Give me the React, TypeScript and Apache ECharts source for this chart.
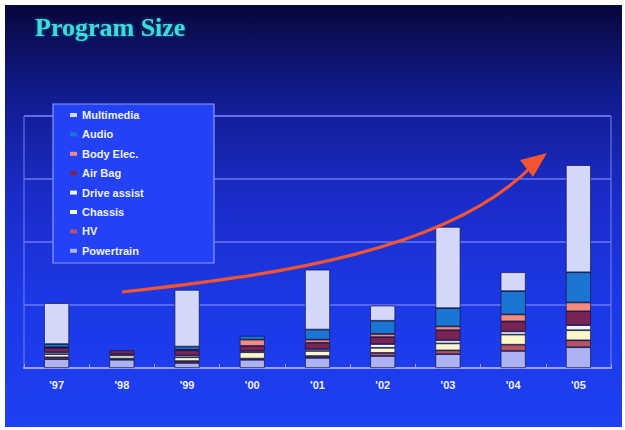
import React, { useEffect, useRef } from "react";
import * as echarts from "echarts";

const categories = ["'97", "'98", "'99", "'00", "'01", "'02", "'03", "'04", "'05"];
// stacked from bottom to top
const powertrain = [1.4, 1.3, 0.8, 1.3, 1.6, 1.9, 2.2, 2.7, 3.3];
const hv = [0.3, 0.2, 0.3, 0.2, 0.3, 0.5, 0.6, 1.0, 1.1];
const chassis = [0.5, 0.5, 0.6, 1.0, 0.8, 0.8, 1.1, 1.6, 1.6];
const driveAssist = [0.3, 0.2, 0.3, 0.2, 0.3, 0.6, 0.5, 0.5, 0.8];
const airBag = [0.7, 0.6, 0.8, 0.8, 1.0, 1.1, 1.6, 1.6, 2.2];
const bodyElec = [0.1, 0, 0.1, 1.0, 0.5, 0.5, 0.6, 1.1, 1.4];
const audio = [0.5, 0, 0.5, 0.6, 1.6, 2.1, 2.9, 3.7, 4.8];
const multimedia = [6.5, 0, 9.0, 0, 9.5, 2.4, 12.9, 3.0, 17.0];

const seriesDefs = [
  { name: "Powertrain", data: powertrain, color: "#adb3f2" },
  { name: "HV", data: hv, color: "#b65466" },
  { name: "Chassis", data: chassis, color: "#fbf7c6" },
  { name: "Drive assist", data: driveAssist, color: "#eef2ff" },
  { name: "Air Bag", data: airBag, color: "#7a2456" },
  { name: "Body Elec.", data: bodyElec, color: "#f48c7e" },
  { name: "Audio", data: audio, color: "#1a76d2" },
  { name: "Multimedia", data: multimedia, color: "#d4d8f8" },
];

const legendOrder = ["Multimedia", "Audio", "Body Elec.", "Air Bag", "Drive assist", "Chassis", "HV", "Powertrain"];

export default function App() {
  const ref = useRef<HTMLDivElement>(null);

  useEffect(() => {
    const chart = echarts.init(ref.current!, null, { renderer: "svg" });

    const bg = new echarts.graphic.LinearGradient(0, 0, 0, 1, [
      { offset: 0, color: "#07073a" },
      { offset: 0.2, color: "#111a8a" },
      { offset: 0.45, color: "#1a2cc8" },
      { offset: 0.7, color: "#1c38e6" },
      { offset: 1, color: "#1e40f2" },
    ]);

    const option: any = {
      animation: false,
      backgroundColor: "#ffffff",
      title: {
        text: "Program Size",
        left: 35,
        top: 14,
        padding: 0,
        textStyle: {
          fontFamily: "Liberation Serif",
          fontWeight: "bold",
          fontSize: 26,
          color: "#3cdcdc",
          textShadowColor: "rgba(60,220,220,0.5)",
          textShadowBlur: 3,
        },
      },
      grid: {
        left: 24,
        right: 14,
        top: 116,
        bottom: 62,
        show: true,
        borderColor: "#7482f2",
        borderWidth: 1,
        backgroundColor: "transparent",
      },
      legend: {
        data: legendOrder,
        orient: "vertical",
        left: 53,
        top: 104,
        padding: [5, 0, 0, 17],
        itemWidth: 7,
        itemHeight: 4,
        itemGap: 7.4,
        icon: "rect",
        itemStyle: { borderWidth: 0 },
        textStyle: {
          color: "#eef0ff",
          fontFamily: "Liberation Sans",
          fontSize: 11,
          fontWeight: "bold",
          lineHeight: 12,
        },
        selectedMode: false,
      },
      xAxis: {
        type: "category",
        data: categories,
        axisLine: { lineStyle: { color: "#9ca2f2", width: 2 } },
        axisTick: { show: true, inside: true, length: 4, lineStyle: { color: "#9ca2f2" } },
        axisLabel: {
          color: "#eef0ff",
          fontFamily: "Liberation Sans",
          fontWeight: "bold",
          fontSize: 11,
          margin: 11,
        },
      },
      yAxis: {
        type: "value",
        min: 0,
        max: 40,
        interval: 10,
        axisLabel: { show: false },
        axisLine: { show: false },
        axisTick: { show: false },
        splitLine: { lineStyle: { color: "#6a78f0", width: 1.5 } },
      },
      series: seriesDefs.map((s) => ({
        name: s.name,
        type: "bar",
        stack: "total",
        barWidth: 25,
        data: s.data.map((v) => (v === 0 ? null : v)),
        itemStyle: { color: s.color, borderColor: "#141432", borderWidth: 0.7 },
      })),
      graphic: [
        {
          type: "rect",
          z: -10,
          silent: true,
          shape: { x: 5, y: 5, width: 617, height: 422 },
          style: { fill: bg },
        },
        {
          type: "rect",
          z: 3,
          silent: true,
          shape: { x: 53, y: 104, width: 161, height: 159 },
          style: { fill: "#2342f6", stroke: "#8a98f4", lineWidth: 1.2 },
        },
        {
          type: "bezierCurve",
          z: 10,
          silent: true,
          shape: { x1: 122, y1: 292, cpx1: 280, cpy1: 275, cpx2: 450, cpy2: 250, x2: 532, y2: 166 },
          style: { stroke: "#f4542e", lineWidth: 3.2, fill: null },
        },
        {
          type: "polygon",
          z: 10,
          silent: true,
          shape: { points: [[547, 153], [520, 160], [533, 177]] },
          style: { fill: "#f4542e" },
        },
      ],
    };

    chart.setOption(option);
    return () => chart.dispose();
  }, []);

  return (
    <div
      ref={ref}
      style={{ position: "absolute", left: 0, top: 0, width: 625, height: 430 }}
    />
  );
}
